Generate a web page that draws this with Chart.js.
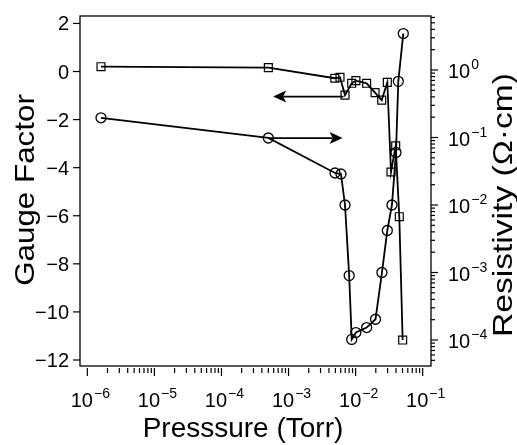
<!DOCTYPE html>
<html><head><meta charset="utf-8">
<script src="https://cdn.jsdelivr.net/npm/chart.js@4.4.0/dist/chart.umd.min.js"></script>
<style>html,body{margin:0;padding:0;background:#fff;}#wrap{width:517px;height:445px;}</style>
</head><body><div id="wrap"><canvas id="c" width="517" height="445"></canvas></div>
<script>
// ---- data ----
const pressureGF = [1.6e-6, 5.0e-4, 4.9e-3, 5.85e-3, 6.95e-3, 8.75e-3, 1.01e-2, 1.46e-2, 1.95e-2, 2.45e-2, 2.97e-2, 3.37e-2, 3.96e-2, 4.48e-2, 5.03e-2];
const gaugeFactor = [0.2, 0.16, -0.28, -0.24, -0.98, -0.49, -0.38, -0.49, -0.88, -1.19, -0.45, -4.18, -3.09, -6.04, -11.17];
const pressureRho = [1.6e-6, 5.0e-4, 4.93e-3, 6.05e-3, 6.95e-3, 8.02e-3, 8.75e-3, 1.01e-2, 1.46e-2, 1.98e-2, 2.47e-2, 2.97e-2, 3.48e-2, 4.0e-2, 4.33e-2, 5.14e-2];
const resistivity = [0.196, 0.0984, 0.0298, 0.0288, 0.0100, 9.0e-4, 1.02e-4, 1.29e-4, 1.53e-4, 2.03e-4, 1.0e-3, 4.19e-3, 1.0e-2, 6.0e-2, 0.68, 3.47];
// tick labels
const gfTicks = [2, 0, -2, -4, -6, -8, -10, -12];
const xDecades = [-6, -5, -4, -3, -2, -1];
const rhoDecades = [0, -1, -2, -3, -4];
// axis titles
const xTitle = 'Presssure (Torr)';
const yTitle = 'Gauge Factor';
const y1Title = 'Resistivity (\u03A9\u00B7cm)';
// annotation arrows (data coordinates)
const arrowGF = {from: 6.6e-3, to: 5.9e-4, y: -1.04};
const arrowRho = {from: 5.0e-4, to: 6.4e-3, y: 0.098};

const FONT = '"Liberation Sans", Arial, Helvetica, sans-serif';
const minus = s => String(s).replace('-', '\u2212');

function logTicks(decades, lo, hi, clampToDecades) {
  const out = [];
  const dmin = Math.min(...decades), dmax = Math.max(...decades);
  for (let d = dmin - 1; d <= dmax; d++) {
    for (let m = 1; m <= 9; m++) {
      const v = m * Math.pow(10, d);
      if (v < lo * 0.9999 || v > hi * 1.0001) continue;
      if (clampToDecades && (v < Math.pow(10, dmin) * 0.9999 || v > Math.pow(10, dmax) * 1.0001)) continue;
      out.push({value: v, major: m === 1});
    }
  }
  return out;
}

function drawPow(ctx, x, y, exp, align) {
  ctx.font = '20px ' + FONT;
  const wb = ctx.measureText('10').width;
  const es = minus(exp);
  ctx.font = '14px ' + FONT;
  const we = ctx.measureText(es).width;
  let sx = x;
  if (align === 'center') sx = x - (wb + we + 1) / 2;
  ctx.textAlign = 'left';
  ctx.textBaseline = 'alphabetic';
  ctx.font = '20px ' + FONT;
  ctx.fillText('10', sx, y);
  ctx.font = '14px ' + FONT;
  ctx.fillText(es, sx + wb + 1, y - 9);
}

function arrow(ctx, x1, y1, x2, y2) {
  const L = 13, W = 6, N = 3;
  const ang = Math.atan2(y2 - y1, x2 - x1);
  ctx.save();
  ctx.lineWidth = 1.7;
  ctx.beginPath();
  ctx.moveTo(x1, y1);
  ctx.lineTo(x2 - Math.cos(ang) * (L - N), y2 - Math.sin(ang) * (L - N));
  ctx.stroke();
  ctx.translate(x2, y2);
  ctx.rotate(ang);
  ctx.beginPath();
  ctx.moveTo(0, 0);
  ctx.lineTo(-L, -W);
  ctx.lineTo(-L + N, 0);
  ctx.lineTo(-L, W);
  ctx.closePath();
  ctx.fill();
  ctx.restore();
}

function vtext(ctx, text, x, y, stretch) {
  ctx.save();
  ctx.translate(x, y);
  ctx.rotate(-Math.PI / 2);
  ctx.scale(stretch, 1);
  ctx.fillText(text, 0, 0);
  ctx.restore();
}

const decor = {
  id: 'decor',
  afterDraw(chart) {
    const ctx = chart.ctx;
    const a = chart.chartArea;
    const sx = chart.scales.x, sy = chart.scales.y, sy1 = chart.scales.y1;
    ctx.save();
    ctx.strokeStyle = '#000';
    ctx.fillStyle = '#000';
    ctx.lineWidth = 1.3;
    ctx.strokeRect(a.left, a.top, a.right - a.left, a.bottom - a.top);
    ctx.lineWidth = 1.2;
    // left ticks + labels
    sy.ticks.forEach(t => {
      const py = sy.getPixelForValue(t.value);
      ctx.beginPath(); ctx.moveTo(a.left, py); ctx.lineTo(a.left - 7, py); ctx.stroke();
      ctx.font = '20px ' + FONT;
      ctx.textAlign = 'right'; ctx.textBaseline = 'alphabetic';
      ctx.fillText(minus(t.value), a.left - 11, py + 7);
    });
    // right ticks + labels
    sy1.ticks.forEach(t => {
      const py = sy1.getPixelForValue(t.value);
      const len = t.major ? 7 : 4;
      ctx.beginPath(); ctx.moveTo(a.right, py); ctx.lineTo(a.right + len, py); ctx.stroke();
    });
    rhoDecades.forEach(d => {
      const py = sy1.getPixelForValue(Math.pow(10, d));
      drawPow(ctx, a.right + 17, py + 8, d, 'left');
    });
    // bottom ticks + labels
    const by = a.bottom + 2;
    sx.ticks.forEach(t => {
      const px = sx.getPixelForValue(t.value);
      const len = t.major ? 8 : 5;
      ctx.beginPath(); ctx.moveTo(px, by); ctx.lineTo(px, by + len); ctx.stroke();
    });
    xDecades.forEach(d => {
      const px = sx.getPixelForValue(Math.pow(10, d));
      drawPow(ctx, px + 3, 407, d, 'center');
    });
    // titles
    ctx.textAlign = 'center'; ctx.textBaseline = 'alphabetic';
    ctx.font = '28px ' + FONT;
    ctx.fillText(xTitle, 243, 437);
    vtext(ctx, yTitle, 34, 190, 1.12);
    vtext(ctx, y1Title, 512, 205, 1.2);
    // arrows
    arrow(ctx, sx.getPixelForValue(arrowGF.from), sy.getPixelForValue(arrowGF.y), sx.getPixelForValue(arrowGF.to), sy.getPixelForValue(arrowGF.y));
    arrow(ctx, sx.getPixelForValue(arrowRho.from), sy1.getPixelForValue(arrowRho.y), sx.getPixelForValue(arrowRho.to), sy1.getPixelForValue(arrowRho.y));
    ctx.restore();
  }
};

const hidden = {grid: {display: false}, border: {display: false}, ticks: {display: false}};

new Chart(document.getElementById('c'), {
  type: 'scatter',
  data: {
    datasets: [
      {
        label: 'Gauge Factor',
        data: pressureGF.map((p, i) => ({x: p, y: gaugeFactor[i]})),
        yAxisID: 'y', showLine: true, tension: 0,
        borderColor: '#000', borderWidth: 1.8,
        pointStyle: 'rect', pointRadius: 5.6, pointBorderWidth: 1.2,
        pointBorderColor: '#000', pointBackgroundColor: 'rgba(0,0,0,0)'
      },
      {
        label: 'Resistivity',
        data: pressureRho.map((p, i) => ({x: p, y: resistivity[i]})),
        yAxisID: 'y1', showLine: true, tension: 0,
        borderColor: '#000', borderWidth: 1.8,
        pointStyle: 'circle', pointRadius: 5, pointBorderWidth: 1.3,
        pointBorderColor: '#000', pointBackgroundColor: 'rgba(0,0,0,0)'
      }
    ]
  },
  options: {
    responsive: false, animation: false, events: [],
    layout: {padding: {top: 16, left: 0, right: 0, bottom: 0}},
    plugins: {legend: {display: false}, tooltip: {enabled: false}},
    scales: {
      x: Object.assign({type: 'logarithmic', position: 'bottom',
        min: Math.pow(10, -6.109), max: Math.pow(10, -0.876),
        afterBuildTicks: s => { s.ticks = logTicks(xDecades, s.min, s.max, true); },
        afterFit: s => { s.height = 79; }}, hidden),
      y: Object.assign({type: 'linear', position: 'left', min: -12.25, max: 2.31,
        afterBuildTicks: s => { s.ticks = gfTicks.map(v => ({value: v, major: true})); },
        afterFit: s => { s.width = 80; }}, hidden),
      y1: Object.assign({type: 'logarithmic', position: 'right',
        min: Math.pow(10, -4.385), max: Math.pow(10, 0.8),
        afterBuildTicks: s => { s.ticks = logTicks(rhoDecades, s.min, s.max, false); },
        afterFit: s => { s.width = 86; }}, hidden)
    }
  },
  plugins: [decor]
});
</script></body></html>
